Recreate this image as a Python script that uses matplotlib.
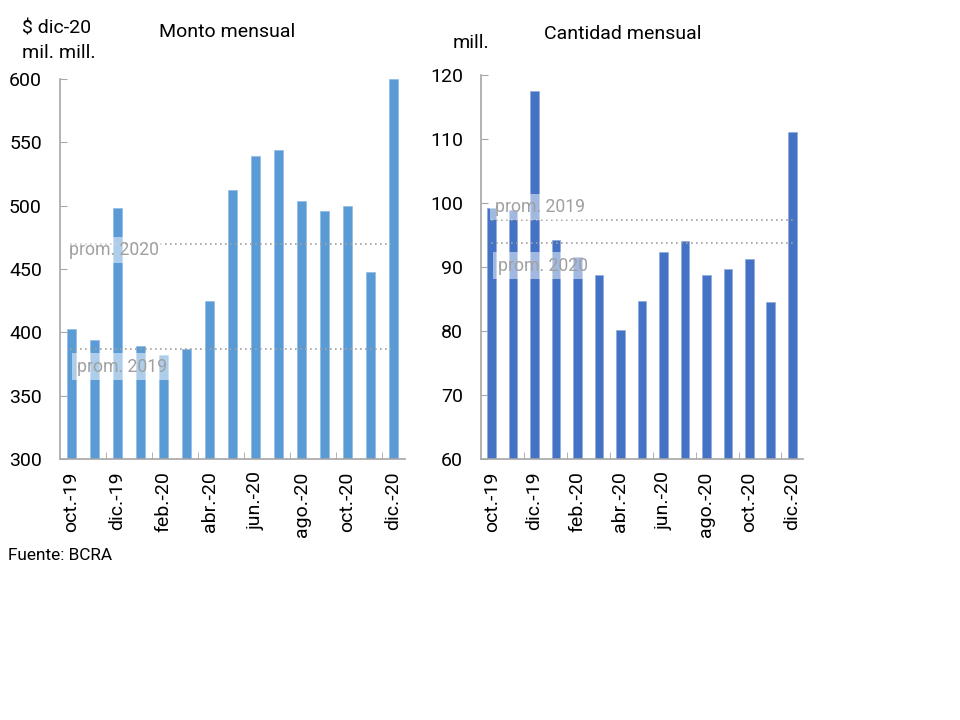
import matplotlib.pyplot as plt

plt.rcParams["font.family"] = ["Roboto", "DejaVu Sans"]

# datos
months = ["oct.-19", "nov.-19", "dic.-19", "ene.-20", "feb.-20", "mar.-20", "abr.-20",
          "may.-20", "jun.-20", "jul.-20", "ago.-20", "sep.-20", "oct.-20", "nov.-20", "dic.-20"]
monto = [403, 394, 498, 389, 382, 387, 425, 512, 539, 544, 504, 496, 500, 448, 600]
cantidad = [99.2, 98.9, 117.5, 94.2, 91.6, 88.8, 80.2, 84.7, 92.4, 94.1, 88.7, 89.7, 91.3, 84.6, 111.1]
monto_prom_2019 = 387
monto_prom_2020 = 470
cant_prom_2019 = 97.3
cant_prom_2020 = 93.8

GRAY = "#a0a0a0"
SPINE = "#a6a6a6"
FS = 14


def style_axis(ax, ylim, yticks):
    ax.set_xlim(-0.5, len(months) - 0.5)
    ax.set_ylim(*ylim)
    ax.set_yticks(yticks)
    ax.set_xticks(range(0, len(months), 2))
    ax.set_xticklabels(months[::2], rotation=90, fontsize=FS)
    ax.set_xticks([i + 0.5 for i in range(1, len(months) - 1, 2)], minor=True)
    ax.tick_params(axis="x", which="major", length=0, pad=9)
    ax.tick_params(axis="x", which="minor", direction="in", length=5, color=SPINE)
    ax.tick_params(axis="y", direction="in", length=5, color=SPINE, labelsize=FS, pad=13)
    for side in ("top", "right"):
        ax.spines[side].set_visible(False)
    for side in ("left", "bottom"):
        ax.spines[side].set_color(SPINE)
        ax.spines[side].set_linewidth(1.2)


def prom_label(ax, x, y, text):
    ax.text(x, y, text, fontsize=12.7, color=GRAY, ha="left", va="center",
            bbox=dict(facecolor="white", alpha=0.5, edgecolor="none", pad=3), zorder=4)


fig = plt.figure(figsize=(9.6, 7.2), dpi=100)

# Monto mensual
ax1 = fig.add_axes([0.0625, 0.3625, 0.3594, 0.5278])
x = range(len(months))
ax1.bar(x, monto, width=0.4, color="#5b9bd5", edgecolor="#8fbbe4", linewidth=0.5, zorder=2)
ax1.hlines([monto_prom_2019, monto_prom_2020], -0.05, 13.9, colors=GRAY, linestyles=(0, (1, 2)),
           linewidth=1.2, zorder=3)
style_axis(ax1, (300, 600), range(300, 601, 50))
prom_label(ax1, -0.09, 465, "prom. 2020")
prom_label(ax1, 0.22, 373, "prom. 2019")
fig.text(0.237, 0.955, "Monto mensual", fontsize=FS, ha="center", va="center")
fig.text(0.023, 0.96, "$ dic-20", fontsize=FS, ha="left", va="center")
fig.text(0.023, 0.927, "mil. mill.", fontsize=FS, ha="left", va="center")

# Cantidad mensual
ax2 = fig.add_axes([0.501, 0.3625, 0.3354, 0.5333])
ax2.bar(x, cantidad, width=0.4, color="#4472c4", edgecolor="#8ea9db", linewidth=0.5, zorder=2)
ax2.hlines([cant_prom_2019, cant_prom_2020], -0.05, 14.1, colors=GRAY, linestyles=(0, (1, 2)),
           linewidth=1.2, zorder=3)
style_axis(ax2, (60, 120), range(60, 121, 10))
prom_label(ax2, 0.14, 99.4, "prom. 2019")
prom_label(ax2, 0.28, 90.2, "prom. 2020")
fig.text(0.649, 0.953, "Cantidad mensual", fontsize=FS, ha="center", va="center")
fig.text(0.471, 0.94, "mill.", fontsize=FS, ha="left", va="center")

fig.text(0.008, 0.228, "Fuente: BCRA", fontsize=12.4, ha="left", va="center")

fig.savefig("out.png", dpi=100)
